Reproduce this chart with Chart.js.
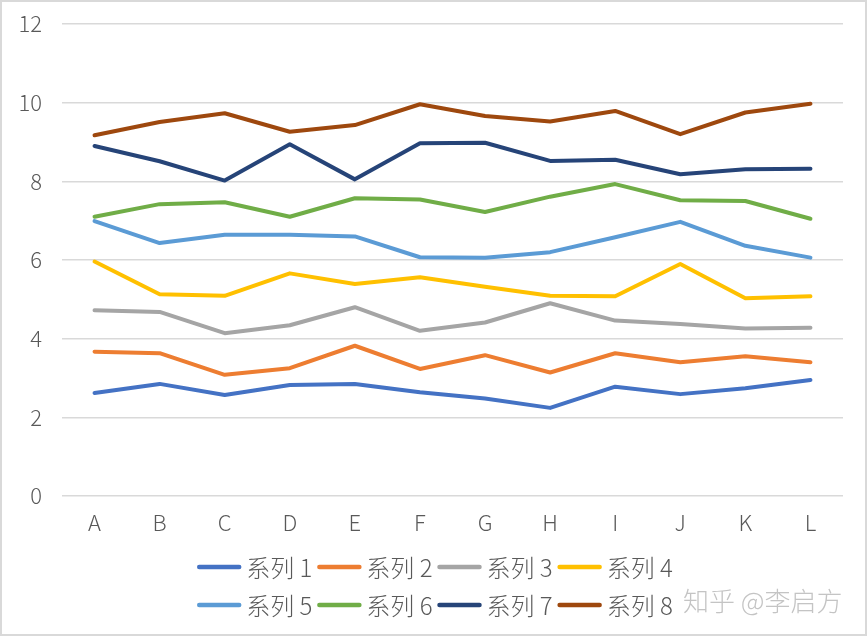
<!DOCTYPE html>
<html>
<head>
<meta charset="utf-8">
<script src="https://cdn.jsdelivr.net/npm/chart.js@4/dist/chart.umd.min.js"></script>
<style>
html,body{margin:0;padding:0;background:#fff;}
#wrap{width:867px;height:636px;box-sizing:border-box;border:2px solid #d9d9d9;background:#fff;}
canvas{display:block;}
</style>
</head>
<body>
<div id="wrap"><canvas id="c" width="863" height="632"></canvas></div>
<script>
const categories = ['A','B','C','D','E','F','G','H','I','J','K','L'];
const seriesNames = ['系列 1','系列 2','系列 3','系列 4','系列 5','系列 6','系列 7','系列 8'];
const s1 = [2.62,2.85,2.57,2.82,2.85,2.64,2.48,2.24,2.78,2.59,2.74,2.95];
const s2 = [3.67,3.63,3.08,3.25,3.82,3.23,3.58,3.14,3.63,3.40,3.55,3.40];
const s3 = [4.72,4.68,4.14,4.34,4.80,4.20,4.41,4.90,4.46,4.37,4.26,4.28];
const s4 = [5.96,5.13,5.09,5.66,5.39,5.56,5.32,5.09,5.08,5.90,5.03,5.08];
const s5 = [6.99,6.43,6.64,6.64,6.60,6.07,6.06,6.20,6.58,6.97,6.36,6.06];
const s6 = [7.10,7.42,7.47,7.10,7.57,7.54,7.22,7.61,7.93,7.52,7.50,7.05];
const s7 = [8.90,8.51,8.02,8.94,8.05,8.97,8.98,8.52,8.55,8.18,8.31,8.32];
const s8 = [9.17,9.51,9.73,9.26,9.43,9.96,9.66,9.52,9.79,9.20,9.75,9.97];
const yTicks = [0,2,4,6,8,10,12];
const colors = ['#4472C4','#ED7D31','#A5A5A5','#FFC000','#5B9BD5','#70AD47','#264478','#9E480E'];
const watermark = '知乎 @李启方';

const allSeries = [s1,s2,s3,s4,s5,s6,s7,s8];
const FONT = '"Noto Sans CJK SC", "Noto Sans", sans-serif';

const datasets = allSeries.map((d,i)=>({
  label: seriesNames[i],
  data: d,
  borderColor: colors[i],
  backgroundColor: colors[i],
  borderWidth: 4,
  pointRadius: 0,
  pointHoverRadius: 0,
  tension: 0,
  borderCapStyle: 'round',
  borderJoinStyle: 'round',
  fill: false
}));

// Legend drawn from the chart's datasets: two rows of four, centred
const legendPlugin = {
  id: 'rowLegend',
  afterDraw(chart){
    const ctx = chart.ctx;
    const ds = chart.data.datasets;
    const perRow = 4, lineLen = 44, gapBefore = 5, gapAfter = 5;
    const rowsY = [565, 603];
    ctx.save();
    ctx.font = '300 24px ' + FONT;
    ctx.textBaseline = 'middle';
    ctx.textAlign = 'left';
    for (let r = 0; r * perRow < ds.length; r++) {
      const items = ds.slice(r*perRow, r*perRow+perRow);
      const widths = items.map(d => lineLen + gapBefore + ctx.measureText(d.label).width + gapAfter);
      const total = widths.reduce((a,b)=>a+b,0) - gapAfter;
      let x = 433 - total/2;
      items.forEach((d,k)=>{
        const y = rowsY[r];
        ctx.strokeStyle = d.borderColor;
        ctx.lineWidth = 4.5;
        ctx.lineCap = 'round';
        ctx.beginPath();
        ctx.moveTo(x + 2, y);
        ctx.lineTo(x + lineLen - 2, y);
        ctx.stroke();
        ctx.fillStyle = '#595959';
        ctx.fillText(d.label, x + lineLen + gapBefore, y + 1);
        x += widths[k];
      });
    }
    ctx.font = '300 26px ' + FONT;
    ctx.fillStyle = '#c4c4c4';
    ctx.fillText(watermark, 681, 599);
    ctx.restore();
  }
};

new Chart(document.getElementById('c'), {
  type: 'line',
  data: { labels: categories, datasets },
  options: {
    responsive: false,
    animation: false,
    layout: { padding: { left: 0, right: 22, top: 22, bottom: 98 } },
    plugins: {
      tooltip: { enabled: false },
      legend: { display: false }
    },
    scales: {
      x: {
        offset: true,
        grid: { display: false, drawTicks: false },
        border: { display: false },
        afterFit(scale){ scale.height = 40; },
        ticks: { color: '#595959', font: { family: FONT, size: 22, weight: '300' }, padding: 13, maxRotation: 0 }
      },
      y: {
        min: 0, max: 12,
        afterBuildTicks(scale){ scale.ticks = yTicks.map(v=>({value:v})); },
        afterFit(scale){ scale.width = 60; },
        grid: { color: '#d9d9d9', lineWidth: 1.5, drawTicks: true, tickLength: 20, tickColor: 'rgba(0,0,0,0)' },
        border: { display: false },
        ticks: { color: '#595959', font: { family: FONT, size: 22, weight: '300' }, padding: 0 }
      }
    }
  },
  plugins: [legendPlugin]
});
</script>
</body>
</html>
